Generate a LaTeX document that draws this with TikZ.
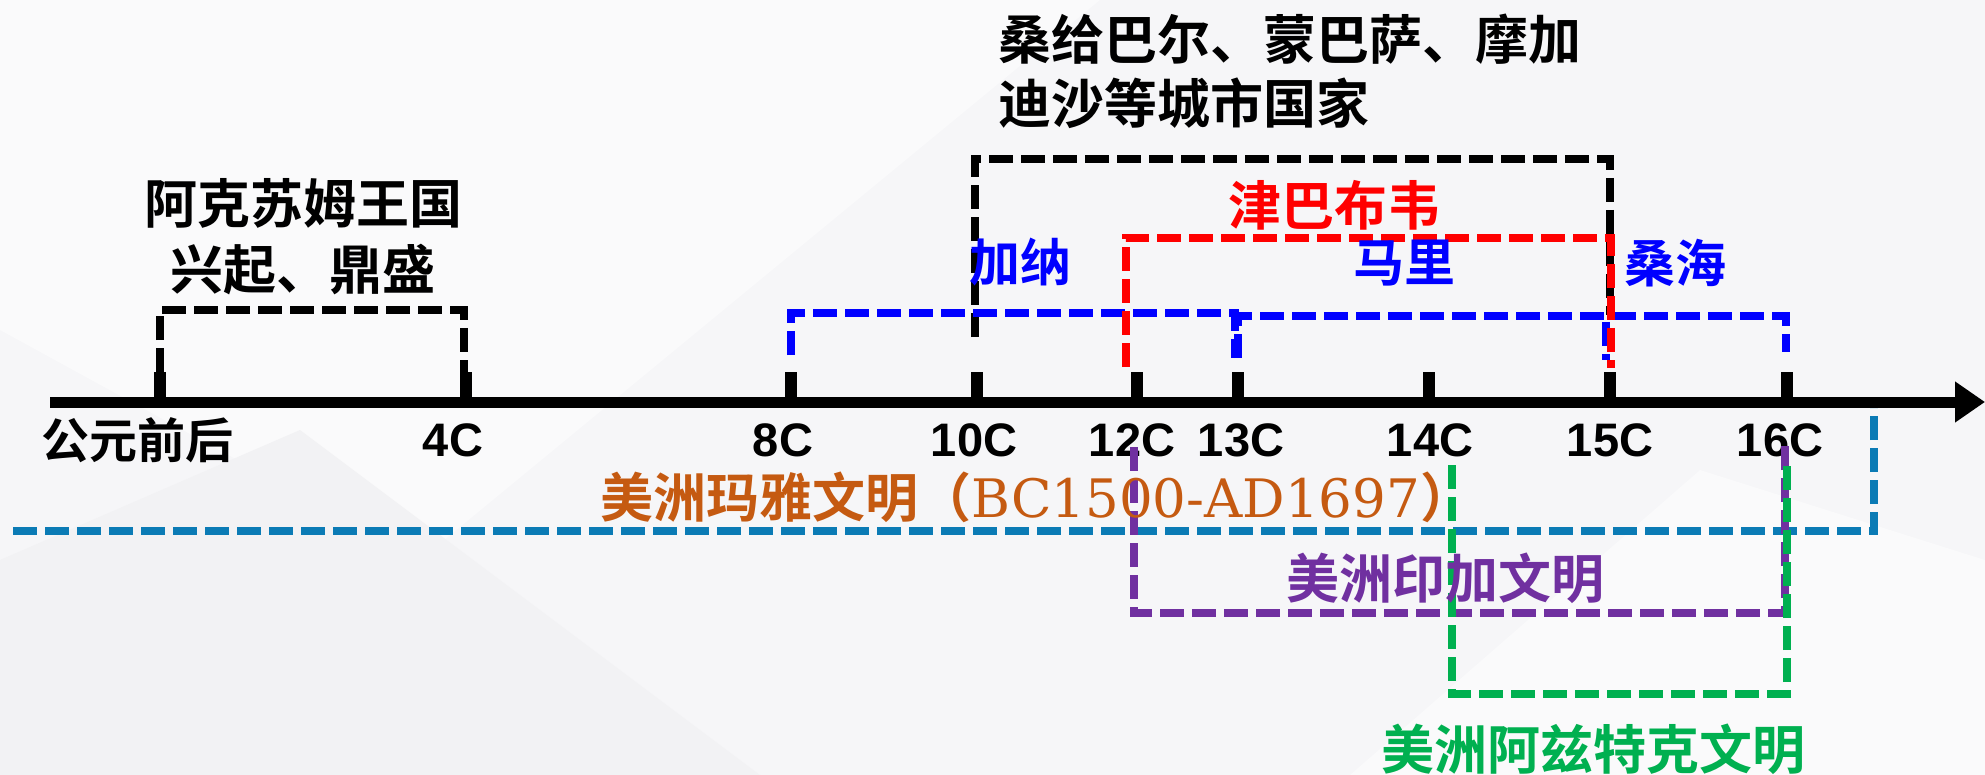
\documentclass[tikz,border=0pt]{standalone}
\usepackage{fontspec}
\setmainfont{Liberation Sans}
\newfontfamily\cjkb{Noto Sans CJK SC Bold}
\newfontfamily\arialf{Liberation Sans}
\newfontfamily\dvserif{DejaVu Serif}
\usetikzlibrary{arrows.meta}
\definecolor{bgbase}{HTML}{F6F6F8}
\definecolor{bglight}{HTML}{FAFAFB}
\definecolor{bgdark}{HTML}{F2F2F4}
\definecolor{mayaorange}{HTML}{C55A11}
\definecolor{mayateal}{HTML}{0B7BB5}
\definecolor{incapurple}{HTML}{7030A0}
\definecolor{aztecgreen}{HTML}{00B050}
\tikzset{
  bracket/.style={line width=8pt, dash pattern=on 24pt off 8pt, miter limit=10},
  tickmark/.style={line width=12pt},
  axisline/.style={line width=11pt, -{Triangle[length=30pt,width=39pt]}},
  lbl/.style={inner sep=0pt, font=\cjkb\fontsize{53pt}{66pt}\selectfont},
  ticklbl/.style={inner sep=0pt, font=\arialf\bfseries\fontsize{47pt}{56pt}\selectfont},
}
\begin{document}
\begin{tikzpicture}[x=1pt,y=-1pt]
% background
\fill[bgbase] (0,0) rectangle (1985,775);
\fill[bglight] (0,0) -- (1100,0) -- (420,560) -- (0,330) -- cycle;
\fill[bgdark] (0,560) -- (300,430) -- (760,775) -- (0,775) -- cycle;
\fill[bglight] (1350,775) -- (1700,470) -- (1985,560) -- (1985,775) -- cycle;
\useasboundingbox (0,0) rectangle (1985,775);

% axis
\coordinate (axs) at (50,402);
\coordinate (axe) at (1985,402);
\draw[axisline] (axs) -- (axe);

% ticks
\foreach \n/\x in {a/160,b/466,c/791,d/977,e/1137,f/1238,g/1429,h/1610,i/1787}{
  \coordinate (tk\n) at (\x,402);
  \draw[tickmark] (tk\n) -- ++(0,-30);
}

% tick labels
\node[lbl, font=\cjkb\fontsize{48pt}{56pt}\selectfont] (l0) at (137,440) {公元前后};
\node[ticklbl] (l4) at (453,440) {4C};
\node[ticklbl] (l8) at (783,440) {8C};
\node[ticklbl] (l10) at (974,440) {10C};
\node[ticklbl] (l12) at (1132,440) {12C};
\node[ticklbl] (l13) at (1241,440) {13C};
\node[ticklbl] (l14) at (1430,440) {14C};
\node[ticklbl] (l15) at (1610,440) {15C};
\node[ticklbl] (l16) at (1780,440) {16C};

% Aksum bracket
\draw[bracket, black] (160,372) -- (160,310) -- (464,310) -- (464,372);
% city-state bracket
\draw[bracket, black] (975,337) -- (975,159) -- (1610,159) -- (1610,315);
% Ghana, Mali, Songhai
\draw[bracket, blue] (791,355) -- (791,313) -- (1235,313) -- (1235,358);
\draw[bracket, blue] (1238,358) -- (1238,316) -- (1606,316) -- (1606,360);
\draw[bracket, blue] (1612,316) -- (1786,316) -- (1786,352);
% Zimbabwe
\draw[bracket, red] (1126,367) -- (1126,238) -- (1611,238) -- (1611,368);

% Americas
\draw[bracket, mayateal] (13,531) -- (1874,531) -- (1874,408);
\draw[bracket, incapurple] (1134,447) -- (1134,613) -- (1785,613) -- (1785,445);
\draw[bracket, aztecgreen] (1452,465) -- (1452,694) -- (1787,694) -- (1787,460);

% labels
\node[lbl, align=center] (aksum) at (303,237) {阿克苏姆王国\\兴起、鼎盛};
\node[lbl, align=left, anchor=west, font=\cjkb\fontsize{53pt}{64pt}\selectfont] (city) at (998,71) {桑给巴尔、蒙巴萨、摩加\\迪沙等城市国家};
\node[lbl, text=blue, font=\cjkb\fontsize{51pt}{60pt}\selectfont] (ghana) at (1020,262) {加纳};
\node[lbl, text=blue, font=\cjkb\fontsize{51pt}{60pt}\selectfont] (mali) at (1404,263) {马里};
\node[lbl, text=blue, font=\cjkb\fontsize{51pt}{60pt}\selectfont] (songhai) at (1675,263) {桑海};
\node[lbl, text=red] (zimb) at (1334,205) {津巴布韦};
\node[lbl, text=mayaorange, anchor=west] (maya) at (600,497) {美洲玛雅文明（{\dvserif BC1500-AD1697}）};
\node[lbl, text=incapurple] (inca) at (1445,578) {美洲印加文明};
\node[lbl, text=aztecgreen] (aztec) at (1593,749) {美洲阿兹特克文明};
\end{tikzpicture}
\end{document}
